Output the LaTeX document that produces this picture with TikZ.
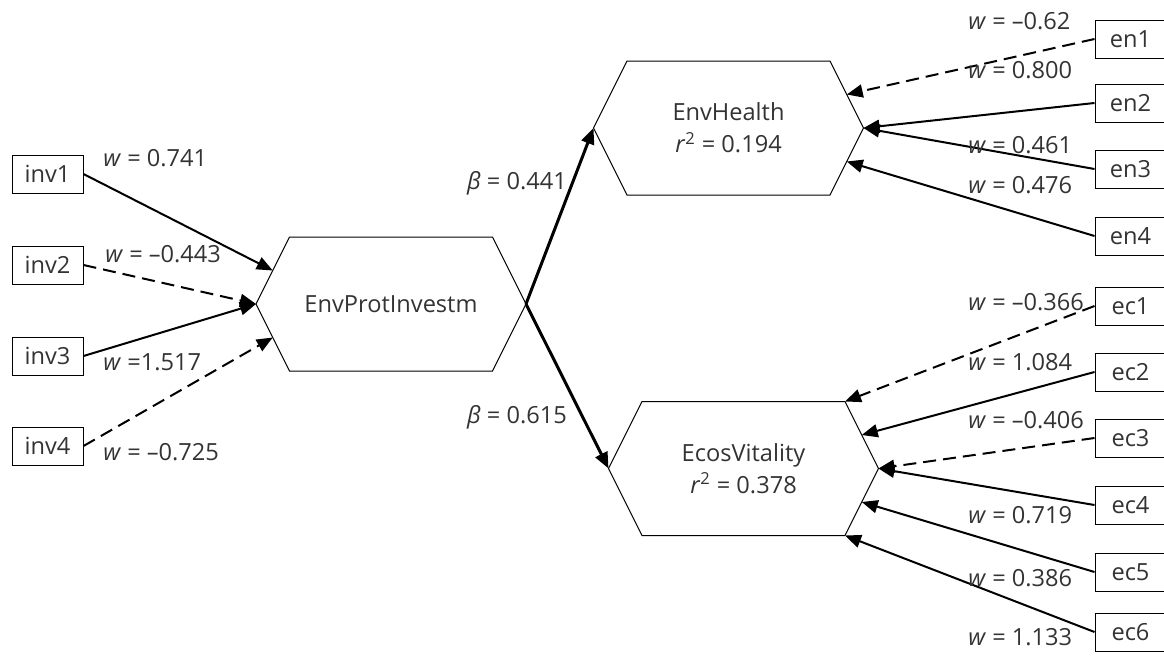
\documentclass[tikz,border=0pt]{standalone}
\usepackage{fontspec}
\setmainfont{Open Sans}
\usetikzlibrary{arrows.meta}

\tikzset{
  ind/.style={draw, line width=0.5pt, minimum width=35.5pt, minimum height=19pt, inner sep=0pt},
  hexline/.style={line width=0.5pt},
  wt/.style={-{Triangle[length=8pt,width=6.5pt]}, line width=1pt},
  negwt/.style={wt, dash pattern=on 6.5pt off 3.5pt},
  pathcoef/.style={wt, line width=1.5pt},
  lab/.style={inner sep=0pt, anchor=west},
}

% hexagon: name, centre, text
\newcommand{\hexbox}[3]{%
  \path (#2) ++(-135,0) coordinate (#1-w) ++(33.5,-67) coordinate (#1-nw)
    ++(203,0) coordinate (#1-ne) ++(33.5,67) coordinate (#1-e)
    ++(-33.5,67) coordinate (#1-se) ++(-203,0) coordinate (#1-sw);
  \path (#1-w) ++(16.75,-33.5) coordinate (#1-wn);
  \path (#1-w) ++(16.75,33.5) coordinate (#1-ws);
  \path (#1-e) ++(-16.75,-33.5) coordinate (#1-en);
  \path (#1-e) ++(-16.75,33.5) coordinate (#1-es);
  \draw[hexline] (#1-w) -- (#1-nw) -- (#1-ne) -- (#1-e) -- (#1-se) -- (#1-sw) -- cycle;
  \node[align=center] (#1) at (#2) {#3};
}

\begin{document}
\begin{tikzpicture}[x=0.5pt, y=-0.5pt,
    every node/.style={font=\fontsize{11.8}{16}\selectfont, text=black!80}]
  \useasboundingbox (0,0) rectangle (1164,659);
  \clip (0,0) rectangle (1164,659);

  \hexbox{epi}{391,304}{EnvProtInvestm}
  \hexbox{eh}{728.5,128}{EnvHealth\\\textit{r}\textsuperscript{2} = 0.194}
  \hexbox{ev}{743.5,468.5}{EcosVitality\\\textit{r}\textsuperscript{2} = 0.378}

  % indicators
  \foreach \n/\y in {1/174, 2/265, 3/356, 4/446}
    \node[ind] (inv\n) at (47.5,\y) {inv\n};
  \foreach \n/\y in {1/39, 2/103, 3/169, 4/236}
    \node[ind] (en\n) at (1130.5,\y) {en\n};
  \foreach \n/\y in {1/306, 2/372, 3/438, 4/505, 5/572, 6/632}
    \node[ind] (ec\n) at (1130.5,\y) {ec\n};

  % outer weights
  \draw[wt] (inv1.east) -- (epi-wn);
  \draw[negwt] (inv2.east) -- (epi-w);
  \draw[wt] (inv3.east) -- (epi-w);
  \draw[negwt] (inv4.east) -- (epi-ws);
  \draw[negwt] (en1.west) -- (eh-en);
  \draw[wt] (en2.west) -- (eh-e);
  \draw[wt] (en3.west) -- (eh-e);
  \draw[wt] (en4.west) -- (eh-es);
  \draw[negwt] (ec1.west) -- (ev-ne);
  \draw[wt] (ec2.west) -- (ev-en);
  \draw[negwt] (ec3.west) -- (ev-e);
  \draw[wt] (ec4.west) -- (ev-e);
  \draw[wt] (ec5.west) -- (ev-es);
  \draw[wt] (ec6.west) -- (ev-se);

  % path coefficients
  \draw[pathcoef] (epi-e) -- (eh-w);
  \draw[pathcoef] (epi-e) -- (ev-w);

  \node (b-eh) at (517,183) {\textit{β} = 0.441};
  \node (b-ev) at (517,417) {\textit{β} = 0.615};

  \node[lab] (w-inv1) at (103,158) {\textit{w} = 0.741};
  \node[lab] (w-inv2) at (105,254) {\textit{w} = \textendash0.443};
  \node[lab] (w-inv3) at (103,362) {\textit{w} =1.517};
  \node[lab] (w-inv4) at (103,452) {\textit{w} = \textendash0.725};
  \foreach \n/\y/\v in {en1/21/\textendash0.62, en2/70/0.800, en3/145/0.461, en4/185/0.476,
      ec1/302/\textendash0.366, ec2/362/1.084, ec3/420/\textendash0.406,
      ec4/515/0.719, ec5/578/0.386, ec6/637/1.133}
    \node[lab] (w-\n) at (968,\y) {\textit{w} = \v};
\end{tikzpicture}
\end{document}
